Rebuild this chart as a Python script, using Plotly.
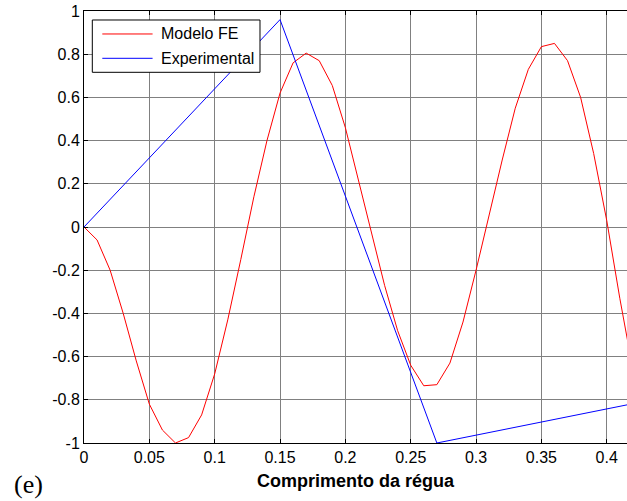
import plotly.graph_objects as go

# Finite-element model response along the ruler
x_fe = [0.00, 0.01, 0.02, 0.03, 0.04, 0.05, 0.06, 0.07, 0.08, 0.09,
        0.10, 0.11, 0.12, 0.13, 0.14, 0.15, 0.16, 0.17, 0.18, 0.19,
        0.20, 0.21, 0.22, 0.23, 0.24, 0.25, 0.26, 0.27, 0.28, 0.29,
        0.30, 0.31, 0.32, 0.33, 0.34, 0.35, 0.36, 0.37, 0.38, 0.39,
        0.40, 0.41, 0.42]
y_fe = [0.00, -0.06, -0.20, -0.40, -0.62, -0.82, -0.94, -1.00, -0.975, -0.87,
        -0.68, -0.43, -0.15, 0.14, 0.40, 0.62, 0.76, 0.805, 0.77, 0.655,
        0.46, 0.22, -0.03, -0.27, -0.48, -0.64, -0.735, -0.73, -0.63, -0.44,
        -0.20, 0.06, 0.31, 0.55, 0.73, 0.835, 0.85, 0.77, 0.60, 0.34,
        0.03, -0.33, -0.66]

# Experimental measurements
x_exp = [0.00, 0.15, 0.27, 0.42]
y_exp = [0.00, 0.96, -1.00, -0.818]

series_names = ["Modelo FE", "Experimental"]
series_colors = ["#ff0000", "#0000ff"]

x_ticks = [0, 0.05, 0.1, 0.15, 0.2, 0.25, 0.3, 0.35, 0.4]
x_tick_text = ["0", "0.05", "0.1", "0.15", "0.2", "0.25", "0.3", "0.35", "0.4"]
y_ticks = [-1, -0.8, -0.6, -0.4, -0.2, 0, 0.2, 0.4, 0.6, 0.8, 1]
y_tick_text = ["-1", "-0.8", "-0.6", "-0.4", "-0.2", "0", "0.2", "0.4", "0.6", "0.8", "1"]

SANS = "Liberation Sans, Arial, sans-serif"
SERIF = "Liberation Serif, Times New Roman, serif"

fig = go.Figure()
fig.add_trace(go.Scatter(x=x_fe, y=y_fe, mode="lines", name=series_names[0],
                         line=dict(color=series_colors[0], width=1)))
fig.add_trace(go.Scatter(x=x_exp, y=y_exp, mode="lines", name=series_names[1],
                         line=dict(color=series_colors[1], width=1)))

axis_common = dict(
    showgrid=True, gridcolor="#808080", gridwidth=1,
    zeroline=False, showline=True, linecolor="black", linewidth=1,
    ticks="inside", ticklen=4, tickcolor="black",
    tickfont=dict(family=SANS, size=16, color="black"),
)

fig.update_xaxes(range=[0, 0.4155], tickvals=x_ticks, ticktext=x_tick_text,
                 mirror="ticks", **axis_common)
fig.update_yaxes(range=[-1, 1], tickvals=y_ticks, ticktext=y_tick_text,
                 mirror=False, **axis_common)

# Boxed legend in the upper-left corner of the axes (paper coordinates)
shapes = [dict(type="rect", xref="paper", yref="paper",
               x0=0.0153, x1=0.3241, y0=0.8581, y1=0.9792,
               fillcolor="white", line=dict(color="black", width=1),
               layer="above")]
annotations = []
for name, color, yp in zip(series_names, series_colors, [0.9468, 0.8905]):
    shapes.append(dict(type="line", xref="paper", yref="paper",
                       x0=0.0337, x1=0.1263, y0=yp, y1=yp,
                       line=dict(color=color, width=1), layer="above"))
    annotations.append(dict(text=name, xref="paper", yref="paper",
                            x=0.1381, y=yp, xanchor="left", yanchor="middle",
                            showarrow=False,
                            font=dict(family=SANS, size=16, color="black")))

annotations += [
    dict(text="<b>Comprimento da régua</b>", xref="paper", yref="paper",
         x=0.5, y=-0.088, xanchor="center", yanchor="middle", showarrow=False,
         font=dict(family=SANS, size=18, color="black")),
    dict(text="(e)", xref="paper", yref="paper",
         x=-0.133, y=-0.097, xanchor="left", yanchor="middle", showarrow=False,
         font=dict(family=SERIF, size=26, color="black")),
]

fig.update_layout(
    width=627, height=501,
    margin=dict(l=84, r=0, t=11, b=58),
    paper_bgcolor="white", plot_bgcolor="white",
    showlegend=False,
    shapes=shapes,
    annotations=annotations,
)

fig.write_html("out.html")
